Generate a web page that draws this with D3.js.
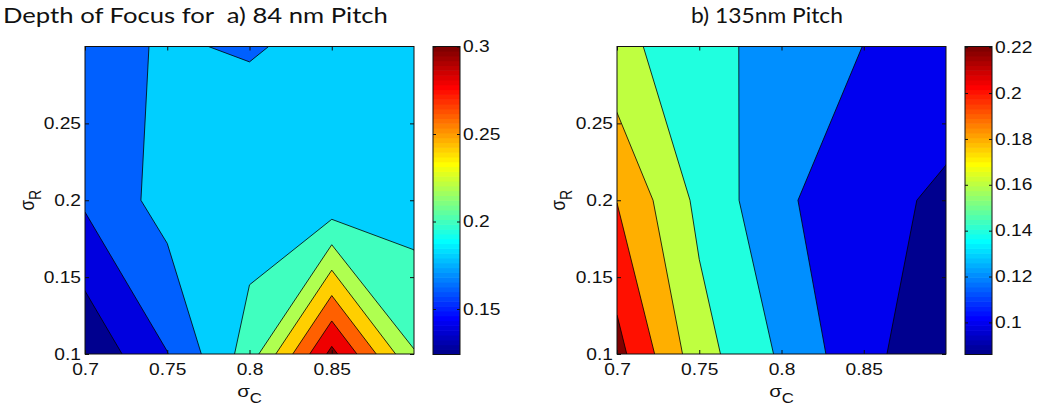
<!DOCTYPE html>
<html>
<head>
<meta charset="utf-8">
<script src="https://cdn.jsdelivr.net/npm/d3@7"></script>
<style>
  body { margin: 0; background: #fff; }
  svg { display: block; }
</style>
</head>
<body>
<svg id="fig" width="1041" height="411"></svg>
<script>
// Illumination grid: sigma_C (columns) and sigma_R (rows)
const sigmaC = [0.7, 0.75, 0.8, 0.85, 0.9];
const sigmaR = [0.1, 0.2, 0.3];

// Depth of focus on the grid, one row per sigma_R value
const dof84 = [
  [0.124, 0.1595, 0.209, 0.306, 0.221],
  [0.163, 0.188, 0.189, 0.185, 0.190],
  [0.1765, 0.181, 0.179, 0.1833, 0.185]
];
const dof135 = [
  [0.227, 0.168, 0.137, 0.1055, 0.086],
  [0.1995, 0.155, 0.124, 0.104, 0.0978],
  [0.1653, 0.1487, 0.1306, 0.1198, 0.1074]
];

// Contour levels and colour limits
const levels84 = [0.12, 0.14, 0.16, 0.18, 0.20, 0.22, 0.24, 0.26, 0.28, 0.30];
const levels135 = [0.10, 0.12, 0.14, 0.16, 0.18, 0.20, 0.22];
const clim84 = [0.124, 0.30];
const clim135 = [0.086, 0.2203];

// Tick labels
const xTicks = [0.7, 0.75, 0.8, 0.85];
const yTicks = [0.1, 0.15, 0.2, 0.25];
const cbTicks84 = [0.15, 0.2, 0.25, 0.3];
const cbTicks135 = [0.1, 0.12, 0.14, 0.16, 0.18, 0.2, 0.22];

const titleA = "Depth of Focus for  a) 84 nm Pitch";
const titleB = "b) 135nm Pitch";

const SX = 1.2;               // horizontal stretch of the lettering
const TICK_FONT = "'Liberation Sans', Arial, sans-serif";

const svg = d3.select("#fig");

// MATLAB-style jet colormap with 64 entries
const clamp01 = v => Math.max(0, Math.min(1, v));
function jet(t) {
  const r = clamp01(Math.min(4 * t - 1.5, -4 * t + 4.5));
  const g = clamp01(Math.min(4 * t - 0.5, -4 * t + 3.5));
  const b = clamp01(Math.min(4 * t + 0.5, -4 * t + 2.5));
  return d3.rgb(255 * r, 255 * g, 255 * b).formatHex();
}
const jetEntry = f => jet(Math.min(64, Math.max(1, Math.floor(f * 64) + 1)) / 64);

function stretchAxisText(sel) {
  sel.selectAll("text").each(function () {
    const t = d3.select(this);
    const x = t.attr("x");
    if (x !== null) t.attr("x", +x / SX);
    t.attr("transform", `scale(${SX},1)`);
  });
}

function styleAxis(g) {
  g.select(".domain").remove();
  g.selectAll("line").attr("stroke", "#111").attr("stroke-width", 1);
  g.selectAll("text").attr("fill", "#111").attr("font-size", 16).attr("font-family", TICK_FONT);
}

function sigmaLabel(x, y, sub, rotate) {
  const t = svg.append("text")
    .attr("transform", `translate(${x},${y}) scale(${SX},1)` + (rotate ? " rotate(-90)" : ""))
    .attr("text-anchor", "middle")
    .attr("font-family", TICK_FONT)
    .attr("fill", "#111");
  t.append("tspan").attr("font-size", 17).text("σ");
  t.append("tspan").attr("font-size", 14).attr("dy", 6).text(sub);
}

function panel(cfg, id) {
  const { values, levels, clim, box, cb, cbTicks, yLabelX, xLabelY } = cfg;
  const [L, T, R, B] = box;
  const x = d3.scaleLinear().domain([0.7, 0.9]).range([L, R]);
  const y = d3.scaleLinear().domain([0.1, 0.3]).range([B, T]);
  const frac = d3.scaleLinear().domain(clim).clamp(true);
  const fill = v => jetEntry(frac(v));

  // grid index -> data coordinate (d3.contours places samples at i + 0.5)
  const nx = sigmaC.length, ny = sigmaR.length;
  const gx = d3.scaleLinear().domain([0.5, nx - 0.5]).range(d3.extent(sigmaC));
  const gy = d3.scaleLinear().domain([0.5, ny - 0.5]).range(d3.extent(sigmaR));
  const path = d3.geoPath(d3.geoTransform({
    point(px, py) { this.stream.point(x(gx(px)), y(gy(py))); }
  }));

  svg.append("clipPath").attr("id", "clip" + id)
    .append("rect").attr("x", L).attr("y", T).attr("width", R - L).attr("height", B - T);
  const g = svg.append("g").attr("clip-path", `url(#clip${id})`);

  g.append("rect").attr("x", L).attr("y", T).attr("width", R - L).attr("height", B - T)
    .attr("fill", fill(clim[0]));

  const bands = d3.contours().size([nx, ny]).thresholds(levels)(values.flat());
  g.selectAll("path").data(bands).join("path")
    .attr("d", path)
    .attr("fill", d => fill(d.value))
    .attr("stroke", "#000")
    .attr("stroke-width", 0.8)
    .attr("stroke-linejoin", "round");

  // axes: inward ticks on all four sides
  const fmt = d3.format("");
  svg.append("g").attr("transform", `translate(0,${B})`)
    .call(d3.axisBottom(x).tickValues(xTicks).tickFormat(fmt).tickSizeInner(-4).tickSizeOuter(0).tickPadding(9.5))
    .call(styleAxis).call(stretchAxisText);
  svg.append("g").attr("transform", `translate(0,${T})`)
    .call(d3.axisTop(x).tickValues(xTicks).tickFormat("").tickSizeInner(-4).tickSizeOuter(0))
    .call(styleAxis);
  svg.append("g").attr("transform", `translate(${L},0)`)
    .call(d3.axisLeft(y).tickValues(yTicks).tickFormat(fmt).tickSizeInner(-4).tickSizeOuter(0).tickPadding(4))
    .call(styleAxis).call(stretchAxisText);
  svg.append("g").attr("transform", `translate(${R},0)`)
    .call(d3.axisRight(y).tickValues(yTicks).tickFormat("").tickSizeInner(-4).tickSizeOuter(0))
    .call(styleAxis);
  svg.append("rect").attr("x", L).attr("y", T).attr("width", R - L).attr("height", B - T)
    .attr("fill", "none").attr("stroke", "#111").attr("stroke-width", 1);

  sigmaLabel((L + R) / 2, xLabelY, "C", false);
  sigmaLabel(yLabelX, (T + B) / 2, "R", true);

  // colour bar
  const [cL, cT, cR, cB] = cb;
  const cy = d3.scaleLinear().domain(clim).range([cB, cT]);
  const steps = d3.range(64);
  const span = clim[1] - clim[0];
  svg.append("g").selectAll("rect").data(steps).join("rect")
    .attr("x", cL).attr("width", cR - cL)
    .attr("y", k => cy(clim[0] + (k + 1) / 64 * span) - 0.3)
    .attr("height", k => cy(clim[0] + k / 64 * span) - cy(clim[0] + (k + 1) / 64 * span) + 0.6)
    .attr("fill", k => jet((k + 1) / 64));
  svg.append("g").attr("transform", `translate(${cL},0)`)
    .call(d3.axisLeft(cy).tickValues(cbTicks).tickFormat("").tickSizeInner(-3).tickSizeOuter(0))
    .call(styleAxis);
  svg.append("g").attr("transform", `translate(${cR},0)`)
    .call(d3.axisRight(cy).tickValues(cbTicks).tickFormat(fmt).tickSizeInner(-3).tickSizeOuter(0).tickPadding(3))
    .call(styleAxis).call(stretchAxisText);
  svg.append("rect").attr("x", cL).attr("y", cT).attr("width", cR - cL).attr("height", cB - cT)
    .attr("fill", "none").attr("stroke", "#111").attr("stroke-width", 1);
}

panel({
  values: dof84, levels: levels84, clim: clim84,
  box: [85, 46.5, 414, 354], cb: [433, 46.5, 460, 354.5], cbTicks: cbTicks84,
  yLabelX: 34, xLabelY: 397
}, "a");

panel({
  values: dof135, levels: levels135, clim: clim135,
  box: [617, 46.5, 946, 354], cb: [965, 46.5, 992, 354.5], cbTicks: cbTicks135,
  yLabelX: 565, xLabelY: 397
}, "b");

// titles
function title(text, x, y, size, width) {
  const t = svg.append("text").attr("font-family", "Lato, 'Open Sans', sans-serif")
    .attr("font-size", size).attr("fill", "#111").style("white-space", "pre").text(text);
  const sx = width / t.node().getComputedTextLength();
  t.attr("transform", `translate(${x},${y}) scale(${sx},1)`);
}
title(titleA, 3, 23, 21, 385);
title(titleB, 691, 23, 21, 152);
</script>
</body>
</html>
